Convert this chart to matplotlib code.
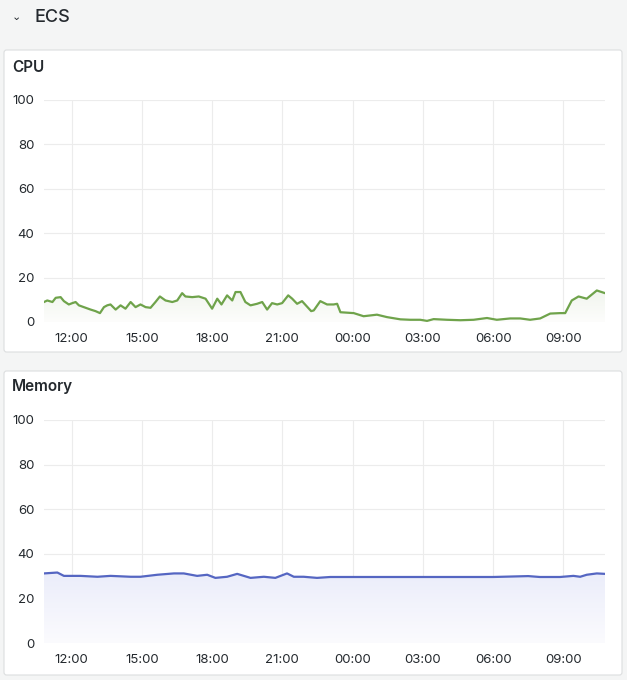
import matplotlib.pyplot as plt
from matplotlib.patches import FancyBboxPatch
from matplotlib.colors import LinearSegmentedColormap
import numpy as np

# Data (hours of day, continuous past midnight)
cpu_t = [10.82, 10.96, 11.18, 11.32, 11.53, 11.67, 11.88, 12.03, 12.17, 12.31,
         12.52, 12.81, 13.02, 13.21, 13.38, 13.52, 13.66, 13.88, 14.09, 14.30,
         14.52, 14.73, 14.94, 15.16, 15.37, 15.58, 15.77, 16.01, 16.30, 16.51,
         16.72, 16.86, 17.15, 17.43, 17.72, 18.00, 18.22, 18.40, 18.64, 18.86,
         19.00, 19.21, 19.42, 19.64, 19.92, 20.14, 20.35, 20.56, 20.78, 20.99,
         21.25, 21.42, 21.63, 21.84, 22.23, 22.34, 22.62, 22.91, 23.19, 23.34,
         23.48, 24.05, 24.47, 25.04, 25.47, 26.04, 26.46, 26.89, 27.18, 27.46,
         28.03, 28.60, 29.17, 29.74, 30.16, 30.73, 31.16, 31.58, 32.01, 32.44,
         32.86, 33.08, 33.36, 33.65, 34.00, 34.43, 34.78]
cpu_v = [9.0, 9.7, 9.0, 10.9, 11.2, 9.4, 7.9, 8.5, 9.0, 7.5,
         6.7, 5.6, 4.9, 4.0, 6.7, 7.5, 7.9, 5.6, 7.5, 6.0,
         9.0, 6.7, 7.9, 6.7, 6.4, 9.0, 11.5, 9.7, 9.0, 9.7,
         13.0, 11.5, 11.2, 11.5, 10.5, 6.0, 10.5, 7.9, 12.0, 9.7,
         13.5, 13.5, 9.0, 7.5, 8.2, 9.0, 5.6, 8.5, 7.9, 8.5,
         12.0, 10.5, 8.2, 9.4, 4.9, 5.2, 9.4, 7.9, 7.9, 8.2,
         4.4, 4.0, 2.6, 3.3, 2.2, 1.2, 1.0, 1.0, 0.5, 1.3,
         1.0, 0.8, 1.0, 1.8, 1.0, 1.6, 1.6, 1.0, 1.6, 3.8,
         4.0, 4.0, 9.7, 11.5, 10.5, 14.2, 13.0]

mem_t = [10.82, 11.39, 11.67, 12.38, 13.10, 13.66, 14.52, 14.94, 15.66, 16.37,
         16.79, 17.36, 17.79, 18.14, 18.64, 19.07, 19.64, 20.21, 20.70, 21.20,
         21.49, 21.91, 22.48, 23.05, 24.5, 26.0, 28.0, 30.0, 31.5, 32.0,
         32.86, 33.43, 33.72, 34.00, 34.43, 34.78]
mem_v = [31.2, 31.6, 30.1, 30.1, 29.7, 30.1, 29.7, 29.7, 30.6, 31.2,
         31.2, 30.1, 30.6, 29.2, 29.7, 31.0, 29.2, 29.7, 29.2, 31.2,
         29.7, 29.7, 29.2, 29.6, 29.6, 29.6, 29.6, 29.6, 30.0, 29.6,
         29.6, 30.1, 29.7, 30.6, 31.2, 31.0]

xticks = [12, 15, 18, 21, 24, 27, 30, 33]
xlabels = ['12:00', '15:00', '18:00', '21:00', '00:00', '03:00', '06:00', '09:00']
yticks = [0, 20, 40, 60, 80, 100]

plt.rcParams['font.family'] = ['Inter', 'DejaVu Sans']

fig = plt.figure(figsize=(6.27, 6.8), dpi=100)
fig.patch.set_facecolor('#f4f5f5')

W, H = 627, 680

def px_box(x0, y0, x1, y1):
    return [x0 / W, 1 - y1 / H, (x1 - x0) / W, (y1 - y0) / H]

# panels
for y0, y1 in [(50, 352), (371, 675)]:
    fig.patches.append(FancyBboxPatch((4 / W, 1 - y1 / H), 618 / W, (y1 - y0) / H,
                                      boxstyle='round,pad=0,rounding_size=0.004',
                                      transform=fig.transFigure, facecolor='white',
                                      edgecolor='#dcdedf', linewidth=0.8, zorder=-10))

fig.text(16 / W, 1 - 17 / H, '⌄', fontsize=8, color='#24292e', va='center', ha='center',
         family=['DejaVu Sans'])
fig.text(34 / W, 1 - 17 / H, 'ECS', fontsize=13, color='#24292e', va='center', fontweight='medium')
fig.text(12 / W, 1 - 67 / H, 'CPU', fontsize=11, color='#24292e', va='center', fontweight='semibold')
fig.text(12 / W, 1 - 387 / H, 'Memory', fontsize=11, color='#24292e', va='center', fontweight='semibold')


def draw(ax, t, v, color, fill_top, fill_bottom):
    ax.set_facecolor('none')
    ax.set_xticks(xticks)
    ax.set_xticklabels(xlabels)
    ax.set_yticks(yticks)
    ax.tick_params(length=0, labelsize=9.5, colors='#24292e', pad=7)
    ax.tick_params(axis='x', pad=8)
    for s in ax.spines.values():
        s.set_visible(False)
    ax.grid(True, color='#ececec', linewidth=0.8)
    ax.set_axisbelow(True)
    # gradient fill under the line
    grad = np.linspace(0, 1, 100).reshape(-1, 1)
    cmap = LinearSegmentedColormap.from_list('g', [fill_bottom, fill_top])
    poly = ax.fill_between(t, v, 0, color='none')
    img = ax.imshow(grad, cmap=cmap, aspect='auto', origin='lower',
                    extent=[t[0], t[-1], 0, max(v)], zorder=1)
    img.set_clip_path(poly.get_paths()[0], transform=ax.transData)
    ax.plot(t, v, color=color, linewidth=1.6, zorder=3, solid_joinstyle='round')
    ax.set_ylim(0, 100)
    ax.set_xlim(10.82, 34.78)


ax1 = fig.add_axes(px_box(44, 100, 605, 322))
draw(ax1, cpu_t, cpu_v, '#6fa34b', '#f1f5ee', '#fdfdfc')

ax2 = fig.add_axes(px_box(44, 420, 605, 643))
draw(ax2, mem_t, mem_v, '#5566c2', '#ebedfa', '#fbfbfe')

plt.savefig('out.png', dpi=100, facecolor=fig.get_facecolor())
